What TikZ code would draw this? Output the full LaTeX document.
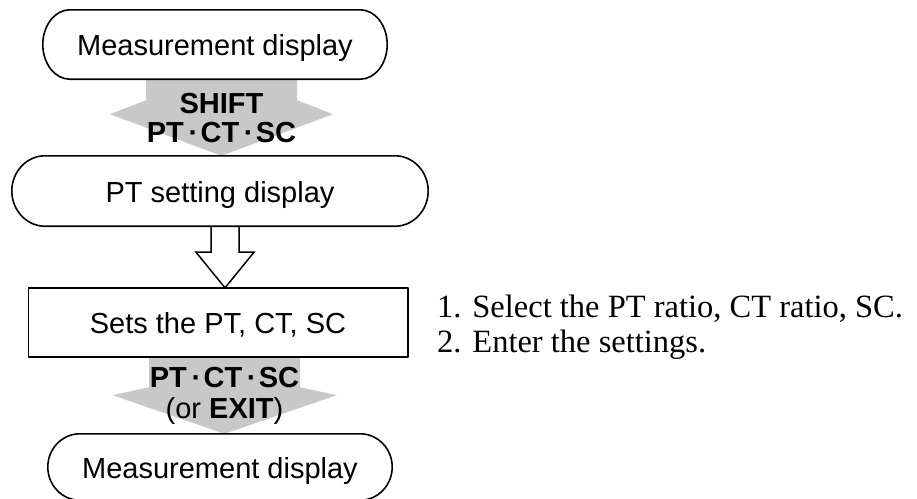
\documentclass[tikz,border=0pt]{standalone}
\usepackage{fontspec}
\setmainfont{Liberation Serif}
\newfontfamily\gothic{Liberation Sans}
\usetikzlibrary{calc}
\definecolor{arrowgray}{RGB}{200,200,200}
\newcommand{\termoutline}[4]{%
  \draw[outline] (#1.north west) -- (#1.north east)
    .. controls ([xshift=#3]#1.north east) and ([xshift=#2,yshift=#4]#1.east) .. ([xshift=#2]#1.east)
    .. controls ([xshift=#2,yshift=-#4]#1.east) and ([xshift=#3]#1.south east) .. (#1.south east)
    -- (#1.south west)
    .. controls ([xshift=-#3]#1.south west) and ([xshift=-#2,yshift=-#4]#1.west) .. ([xshift=-#2]#1.west)
    .. controls ([xshift=-#2,yshift=#4]#1.west) and ([xshift=-#3]#1.north west) .. (#1.north west) -- cycle;}
\newcommand{\kdot}{\hspace{0.16em}·\hspace{0.08em}}
\tikzset{
  outline/.style={line width=1.6pt, line join=round},
  termnode/.style={draw=none, inner sep=0pt, font=\gothic\fontsize{29}{34}\selectfont,
    text height=22pt, text depth=0pt},
  graylabel/.style={font=\gothic\bfseries\fontsize{29}{34}\selectfont, inner sep=0pt, anchor=base},
  note/.style={font=\fontsize{32.5}{35}\selectfont, inner sep=0pt, anchor=base west},
  grayarrow/.style={fill=arrowgray, draw=none},
  hollow/.style={draw, fill=white, line width=1.5pt, line join=miter},
}
\begin{document}
\begin{tikzpicture}[x=1pt, y=-1pt]
\useasboundingbox (0,0) rectangle (917,498);
\clip (0,0) rectangle (917,498);
% nodes
\node[termnode, minimum width=290pt, minimum height=69pt] (m1) at (215,44.5) {Measurement display};
\node[termnode, minimum width=350pt, minimum height=70pt] (p) at (220,191) {PT setting display};
\node[termnode, minimum width=379pt, minimum height=69pt] (s) at (218,322.5) {Sets the PT, CT, SC};
\node[termnode, minimum width=280pt, minimum height=66pt] (m2) at (220,467) {Measurement display};
% arrow axes
\coordinate (ax1) at (221.5,0);
\coordinate (ax2) at (224.5,0);
\coordinate (ax3) at (225,0);
\coordinate (a1s) at (ax1 |- m1.south);
\coordinate (a1t) at (ax1 |- p.north);
\coordinate (a2s) at (ax2 |- s.south);
\coordinate (a2t) at (ax2 |- m2.north);
\coordinate (a3s) at (ax3 |- p.south);
\coordinate (a3t) at (ax3 |- s.north);
% gray arrows
\fill[grayarrow] ([xshift=-75.5pt]a1s) -- ([xshift=75.5pt]a1s) -- ([xshift=75.5pt,yshift=-21pt]a1s)
  -- ([xshift=111.5pt,yshift=-35pt]a1s) -- (a1t) -- ([xshift=-111.5pt,yshift=-35pt]a1s)
  -- ([xshift=-75.5pt,yshift=-21pt]a1s) -- cycle;
\fill[grayarrow] ([xshift=-75.5pt]a2s) -- ([xshift=75.5pt]a2s) -- ([xshift=75.5pt,yshift=-30pt]a2s)
  -- ([xshift=112pt,yshift=-38pt]a2s) -- (a2t) -- ([xshift=-112pt,yshift=-38pt]a2s)
  -- ([xshift=-75.5pt,yshift=-30pt]a2s) -- cycle;
% hollow arrow
\draw[hollow] ([xshift=-14pt]a3s) -- ([xshift=-14pt,yshift=-26pt]a3s) -- ([xshift=-29pt,yshift=-26pt]a3s)
  -- (a3t) -- ([xshift=29pt,yshift=-26pt]a3s) -- ([xshift=14pt,yshift=-26pt]a3s) -- ([xshift=14pt]a3s);
% outlines
\termoutline{m1}{27pt}{15pt}{19pt}
\termoutline{p}{33pt}{18pt}{19.3pt}
\termoutline{m2}{32pt}{17.7pt}{18.2pt}
\draw[outline] (s.north west) rectangle (s.south east);
% arrow labels
\node[graylabel] (k1) at (221.5,113) {SHIFT};
\node[graylabel] (k2) at (221.5,142) {PT\kdot CT\kdot SC};
\node[graylabel] (k3) at (224.5,387) {PT\kdot CT\kdot SC};
\node[graylabel] (k4) at (224.5,418) {{\mdseries(or }EXIT{\mdseries)}};
% notes
\node[note] (n1) at (437,317) {1. Select the PT ratio, CT ratio, SC.};
\node[note] (n2) at (437,352) {2. Enter the settings.};
\end{tikzpicture}
\end{document}
